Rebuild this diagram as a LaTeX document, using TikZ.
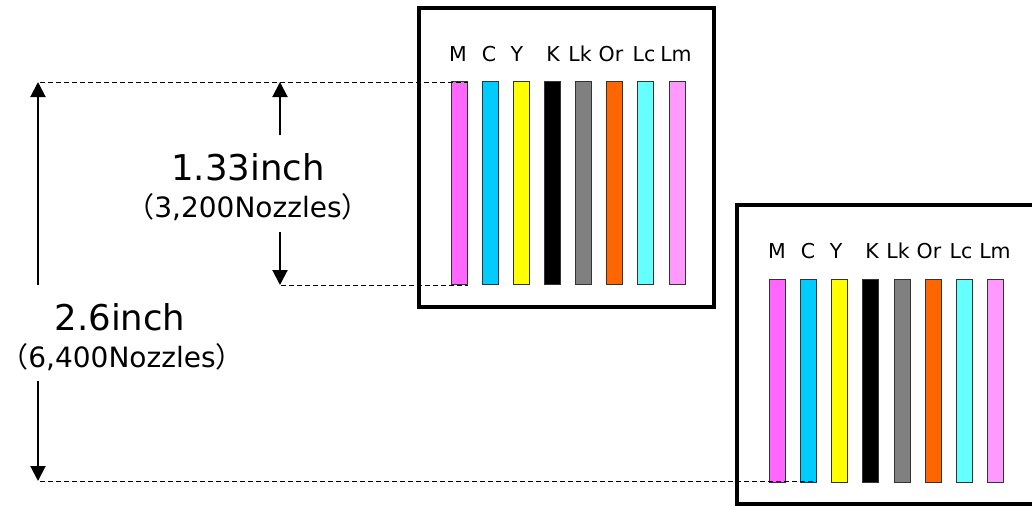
\documentclass[tikz,border=0pt]{standalone}
\usepackage{fontspec}
\setmainfont{DejaVu Sans}
\newfontfamily\cjk{Noto Sans CJK JP}
\usetikzlibrary{arrows.meta}
\definecolor{cM}{HTML}{FF66FF}
\definecolor{cC}{HTML}{00CCFF}
\definecolor{cY}{HTML}{FFFF00}
\definecolor{cK}{HTML}{000000}
\definecolor{cLk}{HTML}{808080}
\definecolor{cOr}{HTML}{FF6600}
\definecolor{cLc}{HTML}{66FFFF}
\definecolor{cLm}{HTML}{FF99FF}
\definecolor{edge}{HTML}{333333}
\newcommand\lpar{{\cjk\kern-0.45em （}}
\newcommand\rpar{{\cjk ）\kern-0.45em}}
\tikzset{
  headbox/.style={draw=black,line width=3.5pt},
  bar/.style={draw=edge,line width=1pt,minimum width=15.5pt,minimum height=203pt,inner sep=0pt,anchor=north west},
  lab/.style={font=\fontsize{20.5}{20.5}\selectfont,anchor=base,inner sep=0pt},
  dim/.style={line width=2pt,-{Triangle[length=15pt,width=15pt]}},
  guide/.style={line width=0.9pt,dash pattern=on 5pt off 3pt},
  big/.style={font=\fontsize{35.5}{35.5}\selectfont,anchor=base,inner sep=0pt},
  small/.style={font=\fontsize{28}{28}\selectfont,anchor=base,inner sep=0pt}
}
\begin{document}
\begin{tikzpicture}[x=1pt,y=-1pt]
\useasboundingbox (0,0) rectangle (1032,507);
\clip (0,0) rectangle (1032,507);
% head boxes
\draw[headbox] (419,8) rectangle (714,307);
\draw[headbox] (737,205) rectangle (1045,504);
% top head bars
\foreach \c/\x [count=\i] in {cM/451,cC/482,cY/513,cK/544,cLk/575,cOr/606,cLc/637,cLm/669}{
  \node[bar,fill=\c] (t\i) at (\x,81) {};
}
\foreach \t/\x [count=\i] in {M/458,C/489,Y/517,K/553,Lk/580,Or/611,Lc/644,Lm/676}{
  \node[lab] (tl\i) at (\x,61) {\t};
}
% bottom head bars
\foreach \c/\x [count=\i] in {cM/769,cC/800,cY/831,cK/862,cLk/894,cOr/925,cLc/956,cLm/987}{
  \node[bar,fill=\c] (b\i) at (\x,279) {};
}
\foreach \t/\x [count=\i] in {M/777,C/808,Y/836,K/872,Lk/898,Or/929,Lc/961,Lm/995}{
  \node[lab] (bl\i) at (\x,258) {\t};
}
% guide lines
\coordinate (gTop) at (40,82);
\coordinate (gMid) at (281,285);
\coordinate (gBot) at (40,481);
\draw[guide] (gTop) -- (gTop -| t1.east);
\draw[guide] (gMid) -- (gMid -| t1.east);
\draw[guide] (gBot) -- (gBot -| b2.east);
% texts
\node[big] (n133) at (248,180) {1.33inch};
\node[small] (n3200) at (248,217) {\lpar 3,200Nozzles\rpar};
\node[big] (n26) at (120,330) {2.6inch};
\node[small] (n6400) at (122,367) {\lpar 6,400Nozzles\rpar};
% dimension arrows
\coordinate (s1) at (280,135);
\coordinate (s2) at (280,232);
\coordinate (l1) at (38,285);
\coordinate (l2) at (38,381);
\draw[dim] (s1) -- (s1 |- gTop);
\draw[dim] (s2) -- (s2 |- gMid);
\draw[dim] (l1) -- (l1 |- gTop);
\draw[dim] (l2) -- (l2 |- gBot);
\end{tikzpicture}
\end{document}
